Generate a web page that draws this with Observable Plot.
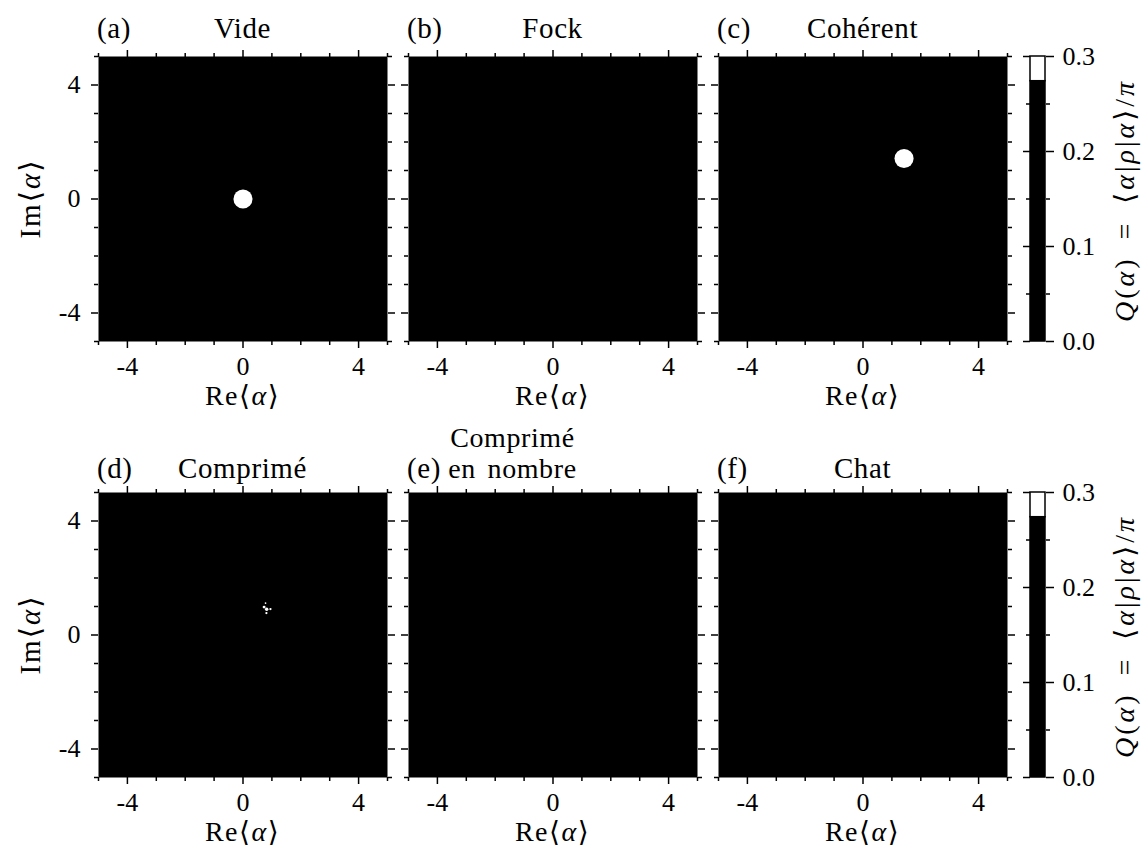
<!DOCTYPE html>
<html><head><meta charset="utf-8">
<script src="https://cdn.jsdelivr.net/npm/d3@7"></script>
<script src="https://cdn.jsdelivr.net/npm/@observablehq/plot@0.6"></script>
<style>
body{margin:0;background:#fff;}
#fig{position:relative;width:1146px;height:847px;overflow:hidden;background:#fff;}
#fig > svg{position:absolute;}
#fig svg, #fig svg text{font-family:"Liberation Serif", "DejaVu Serif", serif !important;}
#fig svg.overlay text{font-size:29px;letter-spacing:0.6px;}
</style></head><body><div id="fig"></div>
<script>
// ---------------- data ----------------
const panelLetters = ["(a)", "(b)", "(c)", "(d)", "(e)", "(f)"];
const panelTitles = [["Vide"], ["Fock"], ["Cohérent"], ["Comprimé"], ["Comprimé", "en nombre"], ["Chat"]];
const axisDomain = [-5, 5];
const majorTicks = [-4, 0, 4];
const minorTicks = [-5, -3, -2, -1, 1, 2, 3, 5];
// regions where Q(α) exceeds the colour threshold
const spotPanel  = [0,     2,     3,    3,    3,    3,    3];
const spotRe     = [0,     1.42,  0.78, 0.73, 0.82, 0.95, 0.81];
const spotIm     = [0,     1.42,  1.12, 0.98, 0.90, 0.91, 0.77];
const spotRadius = [0.33,  0.33,  0.03, 0.05, 0.06, 0.04, 0.04];
const spotPeak   = [0.318, 0.318, 0.28, 0.29, 0.29, 0.28, 0.28];
const colorbarEdges = [0, 0.274, 0.3];
const colorbarMajor = [0, 0.1, 0.2, 0.3];
const colorbarMinor = [0.05, 0.15, 0.25];
const colorThreshold = 0.274;

// ---------------- layout ----------------
const FS = "26px";
const panelW = 289, panelH = 285;
const colLeft = [98, 408, 718];
const rowTop = [56, 492];
const titleShift = [0, 0, 0, 0, -40, 0];
const titleSize = [29, 29, 29, 29, 28, 29];
const mL = 70, mR = 20, mT = 20, mB = 60;
const cbLeft = 1030, cbW = 15;
const colorScale = {type: "threshold", domain: [colorThreshold], range: ["black", "white"]};
const fig = document.getElementById("fig");
const baseStyle = {fontSize: FS, background: "transparent", overflow: "visible", color: "black"};
const fmt = d => String(d);

function place(el, left, top) {
  el.style.left = left + "px";
  el.style.top = top + "px";
  fig.appendChild(el);
}

panelLetters.forEach((_, i) => {
  const col = i % 3, row = Math.floor(i / 3);
  const spots = d3.range(spotPanel.length).filter(k => spotPanel[k] === i)
    .map(k => ({re: spotRe[k], im: spotIm[k], radius: spotRadius[k], q: spotPeak[k]}));
  const ax = {strokeWidth: 1.5, label: null};
  const p = Plot.plot({
    width: panelW + mL + mR, height: panelH + mT + mB,
    marginLeft: mL, marginRight: mR, marginTop: mT, marginBottom: mB,
    style: baseStyle,
    x: {domain: axisDomain, label: null},
    y: {domain: axisDomain, label: null},
    r: {type: "linear", domain: [0, axisDomain[1] - axisDomain[0]], range: [0, panelW]},
    color: colorScale,
    marks: [
      Plot.frame({fill: "black"}),
      Plot.dot(spots, {x: "re", y: "im", r: "radius", fill: "q"}),
      Plot.axisX(majorTicks, {...ax, anchor: "bottom", tickSize: 7, tickPadding: 8, tickFormat: fmt}),
      Plot.axisX(minorTicks, {...ax, anchor: "bottom", tickSize: 4, fill: null}),
      Plot.axisX(majorTicks, {...ax, anchor: "top", tickSize: 7, fill: null}),
      Plot.axisX(minorTicks, {...ax, anchor: "top", tickSize: 4, fill: null}),
      col === 0
        ? Plot.axisY(majorTicks, {...ax, anchor: "left", tickSize: 7, tickPadding: 11, tickFormat: fmt})
        : Plot.axisY(majorTicks, {...ax, anchor: "left", tickSize: 7, fill: null}),
      Plot.axisY(minorTicks, {...ax, anchor: "left", tickSize: 4, fill: null}),
      Plot.axisY(majorTicks, {...ax, anchor: "right", tickSize: 7, fill: null}),
      Plot.axisY(minorTicks, {...ax, anchor: "right", tickSize: 4, fill: null})
    ]
  });
  place(p, colLeft[col] - mL, rowTop[row] - mT);
});

// colour bars
const bands = d3.range(colorbarEdges.length - 1).map(k => ({lo: colorbarEdges[k], hi: colorbarEdges[k + 1]}));
rowTop.forEach(top => {
  const cmL = 10, cmR = 90;
  const ax = {strokeWidth: 1.5, label: null};
  const p = Plot.plot({
    width: cbW + cmL + cmR, height: panelH + mT + mB,
    marginLeft: cmL, marginRight: cmR, marginTop: mT, marginBottom: mB,
    style: baseStyle,
    x: {domain: [0, 1], axis: null},
    y: {domain: [colorbarEdges[0], colorbarEdges[colorbarEdges.length - 1]], label: null},
    color: colorScale,
    marks: [
      Plot.rect(bands, {x1: 0, x2: 1, y1: "lo", y2: "hi", fill: "lo", stroke: "black", strokeWidth: 1.5}),
      Plot.axisY(colorbarMajor, {...ax, anchor: "left", tickSize: 7, fill: null}),
      Plot.axisY(colorbarMinor, {...ax, anchor: "left", tickSize: 4, fill: null}),
      Plot.axisY(colorbarMajor, {...ax, anchor: "right", tickSize: 8, tickPadding: 9, tickFormat: d3.format(".1f")}),
      Plot.axisY(colorbarMinor, {...ax, anchor: "right", tickSize: 4, fill: null})
    ]
  });
  place(p, cbLeft - cmL, top - mT);
});

// ---------------- text overlay ----------------
const svg = d3.select(fig).append("svg").attr("class", "overlay")
  .attr("width", 1146).attr("height", 847)
  .style("left", "0px").style("top", "0px")
  .style("pointer-events", "none");

function rich(sel, parts) {
  parts.forEach(([t, it]) => {
    const ts = sel.append("tspan").text(t);
    if (it) ts.attr("font-style", "italic");
  });
  return sel;
}

panelLetters.forEach((letter, i) => {
  const col = i % 3, row = Math.floor(i / 3);
  const cx = colLeft[col] + panelW / 2;
  const base = row === 0 ? 38 : 478;
  svg.append("text").attr("x", colLeft[col] - 1).attr("y", base).text(letter);
  const lines = panelTitles[i];
  const lineStep = titleSize[i] + 3;
  lines.forEach((line, j) => {
    svg.append("text").attr("x", cx + titleShift[i]).attr("y", base - (lines.length - 1 - j) * lineStep)
      .attr("text-anchor", "middle").attr("word-spacing", "4px")
      .style("font-size", titleSize[i] + "px").text(line);
  });
  // x label
  rich(svg.append("text").attr("x", cx).attr("y", rowTop[row] + panelH + 64).attr("text-anchor", "middle")
    .style("font-size", "28px").style("letter-spacing", "1.5px"),
    [["Re⟨", false], ["α", true], ["⟩", false]]);
});

rowTop.forEach(top => {
  const cy = top + panelH / 2;
  rich(svg.append("text").attr("text-anchor", "middle").style("letter-spacing", "2px")
    .attr("transform", `translate(40,${cy}) rotate(-90)`),
    [["Im⟨", false], ["α", true], ["⟩", false]]);
  rich(svg.append("text").attr("text-anchor", "middle").attr("xml:space", "preserve")
    .style("letter-spacing", "3px").style("font-size", "28px")
    .attr("transform", `translate(1134,${cy + 2}) rotate(-90)`),
    [["Q", true], ["(", false], ["α", true], [")\u2002=\u2002⟨", false], ["α", true], ["|", false],
     ["ρ", true], ["|", false], ["α", true], ["⟩/", false], ["π", true]]);
});
</script>
</body></html>
